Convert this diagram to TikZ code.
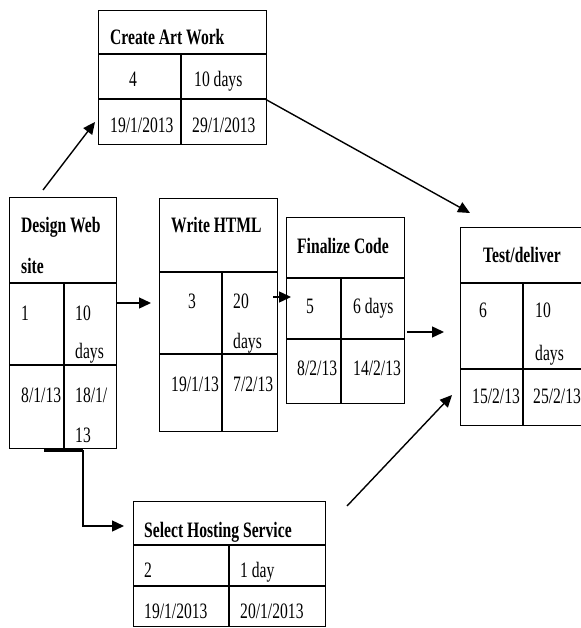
\documentclass[tikz,border=0pt]{standalone}
\usepackage{fontspec}
\setmainfont{Liberation Serif}[FakeStretch=0.71]
\usetikzlibrary{arrows.meta}
\begin{document}
\begin{tikzpicture}[x=1pt,y=-1pt,
 box/.style={draw, line width=1.4pt, inner sep=0, anchor=north west},
 cell/.style={inner sep=0, font=\fontsize{22}{26}\selectfont},
 hd/.style={inner sep=0, font=\fontsize{22}{26}\selectfont\bfseries},
 conn/.style={line width=1.4pt, -{Triangle[length=12pt,width=11pt]}},
 grid/.style={line width=1.4pt}]
\useasboundingbox (0,0) rectangle (580,628);
% Create Art Work
\node[box, minimum width=168pt, minimum height=134pt] (ca) at (98,10) {};
\draw[grid] (98,54) -- (266,54) (98,99) -- (266,99) (181,54) -- (181,144);
\node[hd, anchor=base west] (ca-t) at (110,45) {Create Art Work};
\node[cell, anchor=base] (ca-n) at (133,87) {4};
\node[cell, anchor=base west] (ca-d) at (194,87) {10 days};
\node[cell, anchor=base west] (ca-s) at (110,133) {19/1/2013};
\node[cell, anchor=base west] (ca-f) at (192,133) {29/1/2013};
% Design Web site
\node[box, minimum width=107pt, minimum height=251pt] (dw) at (9,197) {};
\draw[grid] (9,283) -- (116,283) (9,365) -- (116,365) (64,283) -- (64,448);
\node[hd, anchor=base west] (dw-t1) at (21,233) {Design Web};
\node[hd, anchor=base west] (dw-t2) at (21,273) {site};
\node[cell, anchor=base west] (dw-n) at (21,320) {1};
\node[cell, anchor=base west] (dw-d1) at (75,320) {10};
\node[cell, anchor=base west] (dw-d2) at (75,358) {days};
\node[cell, anchor=base west] (dw-s) at (21,402) {8/1/13};
\node[cell, anchor=base west] (dw-f1) at (75,402) {18/1/};
\node[cell, anchor=base west] (dw-f2) at (75,442) {13};
% Write HTML
\node[box, minimum width=118pt, minimum height=233pt] (wh) at (159,198) {};
\draw[grid] (159,272) -- (277,272) (159,354) -- (277,354) (222,272) -- (222,431);
\node[hd, anchor=base west] (wh-t) at (171,233) {Write HTML};
\node[cell, anchor=base] (wh-n) at (192,308) {3};
\node[cell, anchor=base west] (wh-d1) at (233,308) {20};
\node[cell, anchor=base west] (wh-d2) at (233,348) {days};
\node[cell, anchor=base west] (wh-s) at (171,391) {19/1/13};
\node[cell, anchor=base west] (wh-f) at (233,391) {7/2/13};
% Finalize Code
\node[box, minimum width=118pt, minimum height=186pt] (fc) at (286,217) {};
\draw[grid] (286,278) -- (404,278) (286,339) -- (404,339) (341,278) -- (341,403);
\node[hd, anchor=base west] (fc-t) at (297,253) {Finalize Code};
\node[cell, anchor=base] (fc-n) at (310,313) {5};
\node[cell, anchor=base west] (fc-d) at (353,313) {6 days};
\node[cell, anchor=base west] (fc-s) at (297,375) {8/2/13};
\node[cell, anchor=base west] (fc-f) at (353,375) {14/2/13};
% Test/deliver
\node[box, minimum width=140pt, minimum height=198pt] (td) at (460,227) {};
\draw[grid] (460,283) -- (600,283) (460,369) -- (600,369) (523,283) -- (523,425);
\node[hd, anchor=base west] (td-t) at (483,262) {Test/deliver};
\node[cell, anchor=base west] (td-n) at (479,317) {6};
\node[cell, anchor=base west] (td-d1) at (535,317) {10};
\node[cell, anchor=base west] (td-d2) at (535,360) {days};
\node[cell, anchor=base west] (td-s) at (472,403) {15/2/13};
\node[cell, anchor=base west] (td-f) at (533,403) {25/2/13};
% Select Hosting Service
\node[box, minimum width=192pt, minimum height=125pt] (sh) at (133,501) {};
\draw[grid] (133,545) -- (325,545) (133,586) -- (325,586) (229,545) -- (229,626);
\node[hd, anchor=base west] (sh-t) at (144,537) {Select Hosting Service};
\node[cell, anchor=base west] (sh-n) at (144,577) {2};
\node[cell, anchor=base west] (sh-d) at (240,577) {1 day};
\node[cell, anchor=base west] (sh-s) at (144,618) {19/1/2013};
\node[cell, anchor=base west] (sh-f) at (240,618) {20/1/2013};
% connector end points
\coordinate (a1s) at (43,190);  \coordinate (a1e) at (95,122);
\coordinate (a2s) at (265,99);  \coordinate (a2e) at (470,213);
\coordinate (a3s) at (116,303); \coordinate (a3e) at (151,303);
\coordinate (a4s) at (273,297); \coordinate (a4e) at (291,297);
\coordinate (a5s) at (407,332); \coordinate (a5e) at (444,332);
\coordinate (a6s) at (347,506); \coordinate (a6e) at (452,395);
\coordinate (b1) at (44,450); \coordinate (b2) at (83,450);
\coordinate (a7e) at (124,526);
\draw[conn] (a1s) -- (a1e);
\draw[conn] (a2s) -- (a2e);
\draw[conn] (a3s) -- (a3e);
\draw[conn] (a4s) -- (a4e);
\draw[conn] (a5s) -- (a5e);
\draw[conn] (a6s) -- (a6e);
\draw[line width=3pt] (b1) -- (b2);
\draw[conn] (b2) |- (a7e);
\end{tikzpicture}
\end{document}
